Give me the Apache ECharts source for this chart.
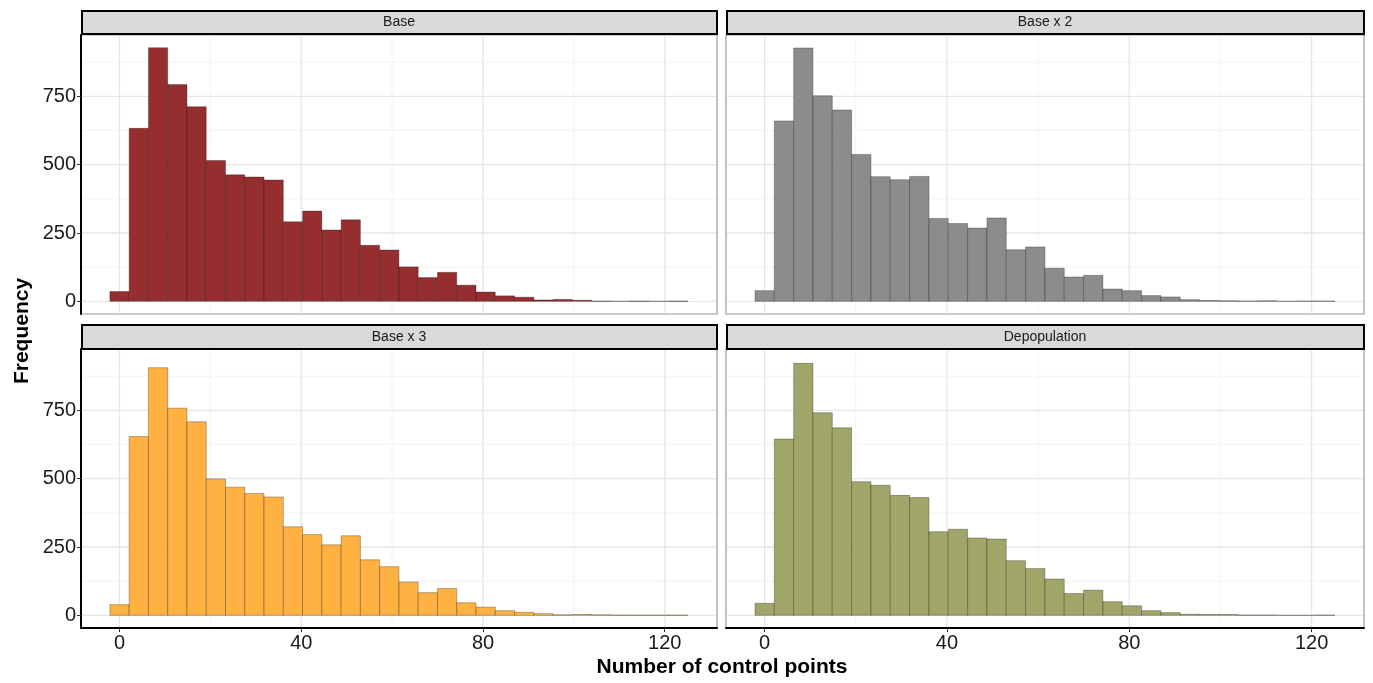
<!DOCTYPE html>
<html>
<head>
<meta charset="utf-8">
<script src="https://cdn.jsdelivr.net/npm/echarts@6/dist/echarts.min.js"></script>
<style>
html,body{margin:0;padding:0;background:#fff;}
#chart{width:1373px;height:683px;}
</style>
</head>
<body>
<div id="chart"></div>
<script>
// ---------- data ----------
const panelNames = ['Base', 'Base x 2', 'Base x 3', 'Depopulation'];
const binStart = -2.12;
const binWidth = 4.241;
const countsBase   = [36,633,928,793,712,515,463,455,444,291,330,261,298,205,188,126,87,106,59,34,20,15,5,7,4,1,0,1,0,1];
const countsBase2  = [39,660,927,752,700,537,456,445,457,303,285,268,305,189,199,121,89,95,45,39,21,16,6,3,2,1,2,0,1,1];
const countsBase3  = [39,654,906,758,708,499,469,446,433,324,296,258,291,203,178,122,83,98,46,30,17,11,6,2,3,2,1,1,1,1];
const countsDepop  = [44,645,922,741,686,489,476,439,431,306,315,283,279,200,171,133,80,92,50,35,17,10,4,3,3,1,1,0,0,1];
const xTicks = [0, 40, 80, 120];
const xMinorGrid = [20, 60, 100];
const yTicks = [0, 250, 500, 750];
const yMinorGrid = [125, 375, 625, 875];
const xTitle = 'Number of control points';
const yTitle = 'Frequency';

// ---------- styling / layout ----------
const allCounts = [countsBase, countsBase2, countsBase3, countsDepop];
const fills = ['rgb(150,46,48)', 'rgb(140,140,140)', 'rgb(255,178,66)', 'rgb(160,165,106)'];
const xMin = -8.48, xMax = 131.5;
const yMin = -46.4, yMax = 974.4;
const FONT = '"Liberation Sans", Arial, Helvetica, sans-serif';

const gridPos = [
  {left: 81,  top: 35,  width: 636, height: 279},
  {left: 726, top: 35,  width: 638, height: 279},
  {left: 81,  top: 349, width: 636, height: 279},
  {left: 726, top: 349, width: 638, height: 279}
];
const stripPos = [
  {y: 10, h: 23}, {y: 10, h: 23}, {y: 324, h: 24}, {y: 324, h: 24}
];

const grids = [], xAxes = [], yAxes = [], series = [], graphics = [];

gridPos.forEach((g, i) => {
  const isBottom = i >= 2, isLeft = i % 2 === 0;
  grids.push({left: g.left, top: g.top, width: g.width, height: g.height,
    show: true, borderColor: '#9a9a9a', borderWidth: 1.2, backgroundColor: '#fff', containLabel: false});
  xAxes.push({
    type: 'value', gridIndex: i, min: xMin, max: xMax,
    axisLine: {show: isBottom, onZero: false, lineStyle: {color: '#000', width: 2}},
    axisTick: {show: isBottom, customValues: xTicks, length: 4, lineStyle: {color: '#333', width: 1}},
    minorTick: {show: false},
    axisLabel: {show: isBottom, customValues: xTicks, fontSize: 20, color: '#1a1a1a', fontFamily: FONT, margin: 5},
    splitLine: {show: false}
  });
  yAxes.push({
    type: 'value', gridIndex: i, min: yMin, max: yMax,
    axisLine: {show: isLeft, onZero: false, lineStyle: {color: '#000', width: 2}},
    axisTick: {show: isLeft, customValues: yTicks, length: 4, lineStyle: {color: '#333', width: 1}},
    minorTick: {show: false},
    axisLabel: {show: isLeft, customValues: yTicks, fontSize: 20, color: '#1a1a1a', fontFamily: FONT, margin: 5},
    splitLine: {show: false}
  });

  // grid lines (minor then major), drawn through the axes' scales
  const lineSeries = (vals, vertical, color, width) => ({
    type: 'custom', xAxisIndex: i, yAxisIndex: i, z: 1, silent: true,
    data: vals.map(v => [v]),
    encode: vertical ? {x: 0} : {y: 0},
    renderItem: (params, api) => {
      const cs = params.coordSys;
      const v = api.value(0);
      if (vertical) {
        const p = api.coord([v, 0]);
        return {type: 'line', shape: {x1: p[0], y1: cs.y + 1, x2: p[0], y2: cs.y + cs.height - 1},
          style: {stroke: color, lineWidth: width}};
      } else {
        const p = api.coord([0, v]);
        return {type: 'line', shape: {x1: cs.x + 1, y1: p[1], x2: cs.x + cs.width - 1, y2: p[1]},
          style: {stroke: color, lineWidth: width}};
      }
    }
  });
  series.push(lineSeries(xMinorGrid, true, '#f0f0f0', 0.8));
  series.push(lineSeries(yMinorGrid, false, '#f0f0f0', 0.8));
  series.push(lineSeries(xTicks, true, '#e6e6e6', 1.3));
  series.push(lineSeries(yTicks, false, '#e6e6e6', 1.3));

  // histogram
  const fill = fills[i];
  series.push({
    type: 'custom', name: panelNames[i], xAxisIndex: i, yAxisIndex: i, z: 3,
    data: allCounts[i].map((c, k) => [binStart + k * binWidth, binStart + (k + 1) * binWidth, c]),
    encode: {x: [0, 1], y: 2},
    renderItem: (params, api) => {
      const p0 = api.coord([api.value(0), 0]);
      const p1 = api.coord([api.value(1), api.value(2)]);
      return {type: 'rect',
        shape: {x: p0[0], y: p1[1], width: p1[0] - p0[0], height: p0[1] - p1[1]},
        style: {fill: fill, stroke: 'rgba(0,0,0,0.4)', lineWidth: 0.7}};
    }
  });

  // strip
  const s = stripPos[i];
  graphics.push({type: 'rect', left: g.left, top: s.y, z: 10,
    shape: {width: g.width - 1, height: s.h},
    style: {fill: '#d9d9d9', stroke: '#000', lineWidth: 2}});
  graphics.push({type: 'text', z: 11,
    x: g.left + g.width / 2, y: s.y + s.h / 2 + 1,
    style: {text: panelNames[i], fill: '#1a1a1a', font: '14px ' + FONT, textAlign: 'center', textVerticalAlign: 'middle'}});
});

graphics.push({type: 'text', z: 11, x: 722, y: 667,
  style: {text: xTitle, fill: '#000', font: 'bold 21px ' + FONT, textAlign: 'center', textVerticalAlign: 'middle'}});
graphics.push({type: 'text', z: 11, x: 22, y: 331, rotation: Math.PI / 2,
  style: {text: yTitle, fill: '#000', font: 'bold 21px ' + FONT, textAlign: 'center', textVerticalAlign: 'middle'}});

const chart = echarts.init(document.getElementById('chart'), null, {renderer: 'canvas'});
chart.setOption({
  animation: false,
  backgroundColor: '#fff',
  grid: grids, xAxis: xAxes, yAxis: yAxes, series: series, graphic: graphics
});
</script>
</body>
</html>
